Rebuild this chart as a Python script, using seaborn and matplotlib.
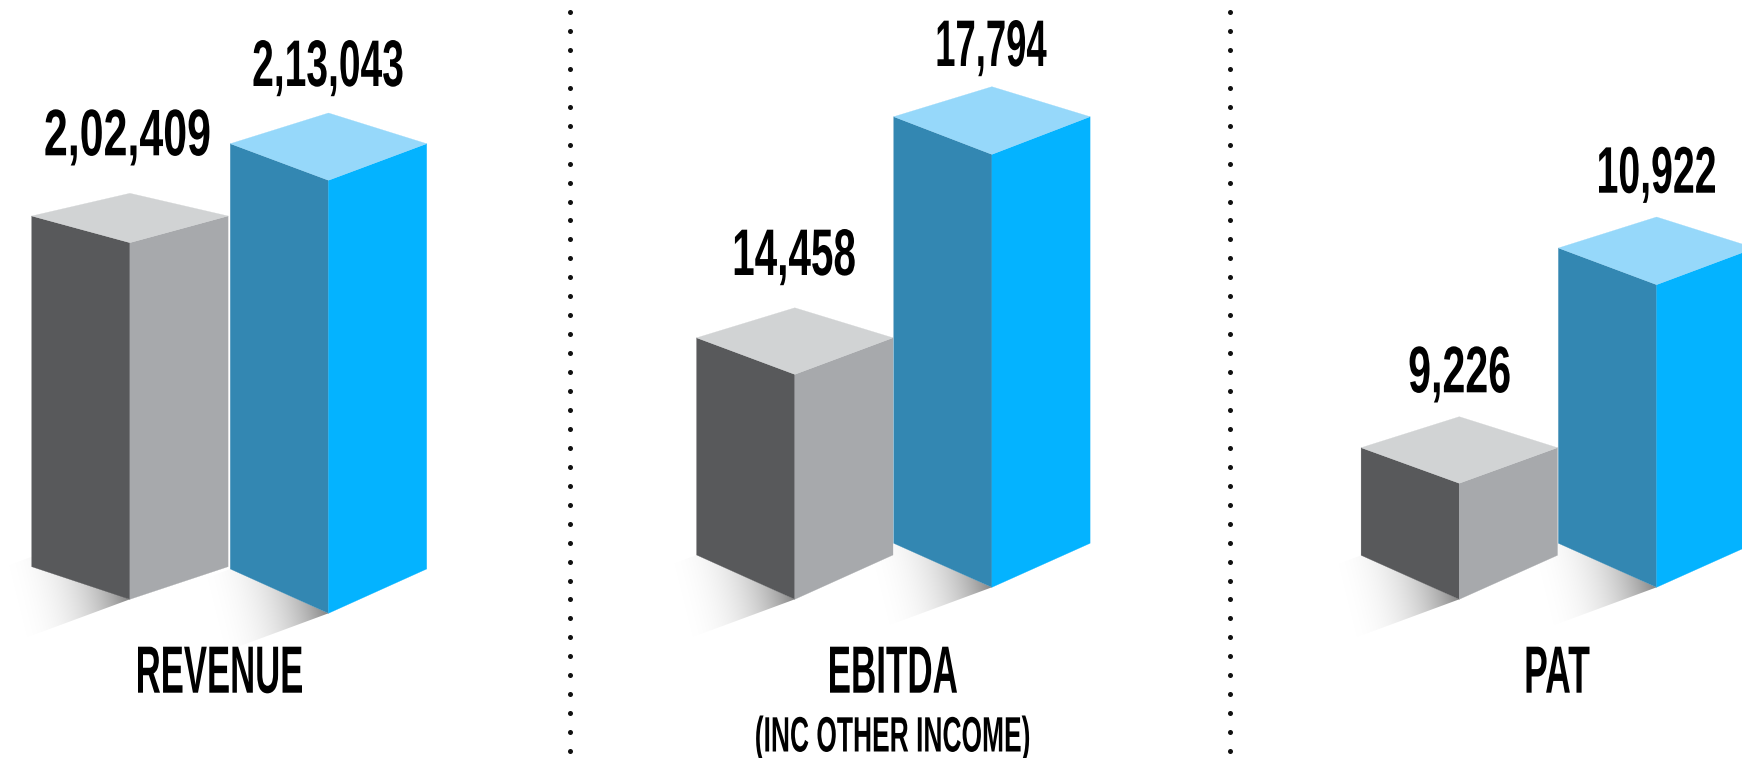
import numpy as np
import pandas as pd
import matplotlib
matplotlib.use("Agg")
import matplotlib.pyplot as plt
from matplotlib.patches import Polygon
from matplotlib.patheffects import AbstractPathEffect
from matplotlib.transforms import Affine2D
import seaborn as sns

# Figures in crore, prior period then current period
PERIODS = ["prior", "current"]
REVENUE = [202409, 213043]
EBITDA = [14458, 17794]
PAT = [9226, 10922]
METRICS = ["REVENUE", "EBITDA", "PAT"]
SUBTITLES = ["", "(INC OTHER INCOME)", ""]

W, H = 1742, 758
HALF_WIDTH = 98.2
COLORS = {
    "prior": ("#58595b", "#a7a9ac", "#d1d3d4"),
    "current": ("#3387b2", "#04b3ff", "#96d8fa"),
}

# Isometric layout per panel, in pixels: x of the front edges, pixel height of
# each front-top corner, pixel height of each front-bottom corner, and the
# drops from the front-top corner to the side corners and to the back corner.
LAYOUT = [
    dict(mid=(129.9, 328.5), top=(242.7, 180.3), base=(599.3, 613.3),
         side=(26.7, 36.6), back=(49.4, 67.3), base_drop=(32.6, 44.3), lift=(10, 0)),
    dict(mid=(794.8, 991.9), top=(374.4, 154.4), base=(599.3, 587.3),
         side=(36.6, 37.7), back=(66.6, 67.7), base_drop=(44.3, 44.0), lift=(0, 0)),
    dict(mid=(1459.3, 1656.6), top=(483.3, 284.7), base=(599.3, 587.3),
         side=(35.6, 36.7), back=(66.6, 67.7), base_drop=(44.0, 44.0), lift=(0, 0)),
]

# Ink centre, ink width and baseline of the value labels
VALUE_TEXT = [
    [(127.4, 164, 155.3), (328.0, 149, 86.0)],
    [(794.7, 120, 275.0), (992.0, 109, 66.0)],
    [(1459.6, 100, 392.3), (1657.0, 116, 192.7)],
]
# Ink centre and ink width of the metric names and the subtitle
METRIC_TEXT = [(220.0, 164), (893.5, 127), (1558.0, 63)]
SUBTITLE_TEXT = (892.6, 273)
CAPTION_BASELINE = 692.7
SUBTITLE_BASELINE = 751.5

FONT = ["Liberation Sans Narrow", "Liberation Sans"]


class FitInk(AbstractPathEffect):
    """Reshape a text outline to a given ink width, centre and height above its baseline."""

    def __init__(self, cx, width, rise):
        super().__init__()
        self.cx, self.width, self.rise = cx, width, rise

    def draw_path(self, renderer, gc, tpath, affine, rgbFace=None):
        box = tpath.get_extents(affine)
        _, baseline = affine.transform((0, 0))
        reshape = (Affine2D().translate(-box.x0, -baseline)
                   .scale(self.width / box.width, self.rise / (box.y1 - baseline))
                   .translate(self.cx - self.width / 2, baseline))
        renderer.draw_path(gc, tpath, affine + reshape, rgbFace)


def grouped(value):
    """Lakh-style digit grouping, e.g. 213043 -> 2,13,043."""
    s = str(value)
    if len(s) <= 3:
        return s
    head, tail = s[:-3], s[-3:]
    parts = []
    while len(head) > 2:
        parts.insert(0, head[-2:])
        head = head[:-2]
    parts.insert(0, head)
    return ",".join(parts + [tail])


def ground_shadow(ax, front, left, lift):
    """Soft shadow falling to the lower left of a box's bottom edges."""
    reach, slope = 125, 0.37
    fx, fy = front
    lx, ly = left
    outline = [(fx, fy), (lx, ly - lift), (lx - reach, ly - lift + reach * slope),
               (fx - reach, fy + reach * slope)]
    x0, x1 = lx - reach - 2, fx + 2
    y0, y1 = ly - lift - 2, fy + reach * slope + 2
    xx, yy = np.meshgrid(np.arange(x0, x1), np.arange(y0, y1))
    # Darkest at the front corner, fading mostly along the horizontal
    run = (fx - xx) + 0.25 * (yy - fy)
    alpha = 0.48 * np.clip(1 - run / 135, 0, 1) ** 2.7
    rgba = np.zeros(xx.shape + (4,))
    rgba[..., 3] = alpha
    im = ax.imshow(rgba, extent=(x0, x1, y1, y0), aspect="auto",
                   interpolation="bilinear", zorder=1)
    im.set_clip_path(Polygon(outline, transform=ax.transData))


sns.set_theme(style="white")
fig = plt.figure(figsize=(W / 100, H / 100), dpi=100, facecolor="white")

# Pixel-space layer for the shadows, dotted dividers and captions
bg = fig.add_axes([0, 0, 1, 1], zorder=0)
bg.set_axis_off()

for i, series in enumerate([REVENUE, EBITDA, PAT]):
    spec = LAYOUT[i]
    m0, m1 = spec["mid"]
    spacing = m1 - m0

    # Shadows sit under every box
    for j in range(2):
        ground_shadow(bg, (spec["mid"][j], spec["base"][j]),
                      (spec["mid"][j] - HALF_WIDTH, spec["base"][j] - spec["base_drop"][j]),
                      spec["lift"][j])

    # One axes per panel; its value axis is truncated so that the two bars
    # reach their front-top corners
    ax = fig.add_axes([(m0 - spacing / 2) / W, 0, 2 * spacing / W, 1], zorder=2)
    ax.patch.set_alpha(0)
    frame = pd.DataFrame({"period": PERIODS, "value": series})
    sns.barplot(data=frame, x="period", y="value", hue="period", order=PERIODS,
                hue_order=PERIODS, palette=[COLORS[p][0] for p in PERIODS],
                width=2 * HALF_WIDTH / spacing, legend=False, ax=ax)
    ax.set_xlim(-0.5, 1.5)
    per_px = (series[1] - series[0]) / (spec["top"][0] - spec["top"][1])
    ax.set_ylim(series[0] - (H - spec["top"][0]) * per_px,
                series[0] + spec["top"][0] * per_px)
    ax.set_axis_off()

    # Each seaborn bar gives the footprint and height of one isometric box
    for j, (bar, period) in enumerate(zip(ax.patches, PERIODS)):
        bar.set_visible(False)
        xl, xr = bar.get_x(), bar.get_x() + bar.get_width()
        xm = (xl + xr) / 2
        top = bar.get_height()
        base = top - (spec["base"][j] - spec["top"][j]) * per_px
        side = top + spec["side"][j] * per_px
        back = top + spec["back"][j] * per_px
        foot = base + spec["base_drop"][j] * per_px
        dark, mid, light = COLORS[period]
        faces = [
            ([(xl, side), (xm, top), (xm, base), (xl, foot)], dark),
            ([(xm, top), (xr, side), (xr, foot), (xm, base)], mid),
            ([(xl, side), (xm, back), (xr, side), (xm, top)], light),
        ]
        for corners, colour in faces:
            ax.add_patch(Polygon(corners, closed=True, facecolor=colour,
                                 edgecolor=colour, linewidth=0.2, clip_on=False))

        cx, ink, baseline = VALUE_TEXT[i][j]
        bg.text(cx, baseline, grouped(series[j]), ha="center", va="baseline",
                fontsize=38, fontweight="bold", family=FONT, color="black",
                path_effects=[FitInk(cx, ink, 46)], zorder=3)

    cx, ink = METRIC_TEXT[i]
    bg.text(cx, CAPTION_BASELINE, METRICS[i], ha="center", va="baseline", fontsize=38,
            fontweight="bold", family=FONT, color="black",
            path_effects=[FitInk(cx, ink, 46)], zorder=3)
    if SUBTITLES[i]:
        cx, ink = SUBTITLE_TEXT
        bg.text(cx, SUBTITLE_BASELINE, SUBTITLES[i], ha="center", va="baseline", fontsize=22,
                fontweight="bold", family=FONT, color="black",
                path_effects=[FitInk(cx, ink, 36)], zorder=3)

# Dotted dividers between the panels
dot_y = np.arange(40) * 18.95 + 12
for x in (570, 1230):
    bg.scatter(np.full(dot_y.shape, x), dot_y, s=13, color="#111111", linewidths=0, zorder=2)

bg.set_xlim(0, W)
bg.set_ylim(H, 0)

fig.savefig("out.png", dpi=100, facecolor="white")
